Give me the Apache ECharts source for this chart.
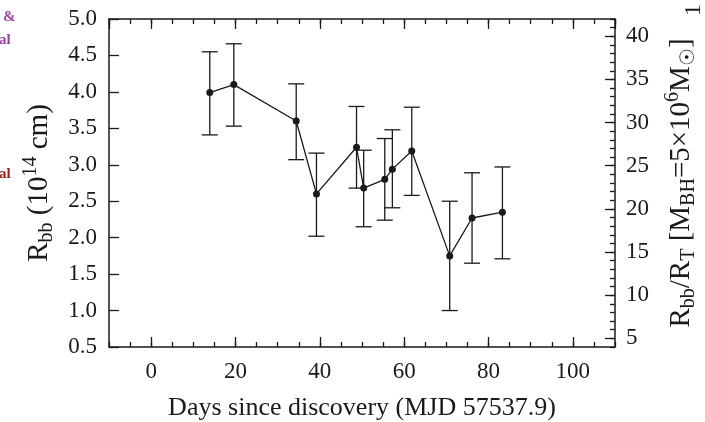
<!DOCTYPE html>
<html><head><meta charset="utf-8">
<script src="https://cdn.jsdelivr.net/npm/echarts@6/dist/echarts.min.js"></script>
<style>html,body{margin:0;padding:0;background:#fff}#c{width:705px;height:422px}</style>
</head><body><div id="c"></div>
<script>
// Days since discovery
const days = [13.9, 19.6, 34.4, 39.2, 48.7, 50.4, 55.4, 57.2, 61.8, 70.8, 76.1, 83.3];
// Blackbody radius (10^14 cm)
const rbb = [3.99, 4.10, 3.60, 2.60, 3.24, 2.68, 2.80, 2.94, 3.19, 1.75, 2.27, 2.35];
const rbbHigh = [4.55, 4.66, 4.11, 3.16, 3.80, 3.20, 3.36, 3.48, 3.79, 2.50, 2.89, 2.97];
const rbbLow = [3.41, 3.53, 3.07, 2.02, 2.68, 2.15, 2.24, 2.41, 2.58, 1.00, 1.65, 1.71];

const FONT = 'Liberation Serif';
const INK = '#1a1a1a';

const chart = echarts.init(document.getElementById('c'), null, {renderer: 'canvas'});

const linePts = days.map((d, i) => [d, rbb[i]]);
const errPts = days.map((d, i) => [d, rbbLow[i], rbbHigh[i]]);

const axisLine = {show: true, onZero: false, lineStyle: {color: INK, width: 1.5}};
const noLine = {show: false, onZero: false};
const majorTick = {show: true, inside: true, length: 10, lineStyle: {color: INK, width: 1.3}};
const minorTick = {show: true, inside: true, length: 5, lineStyle: {color: INK, width: 1.3}};
const tickLabel = {fontFamily: FONT, fontSize: 23, color: INK};
const nameRich = {
  sub: {fontFamily: FONT, fontSize: 20, color: INK, verticalAlign: 'bottom', lineHeight: 36},
  sup: {fontFamily: FONT, fontSize: 20, color: INK, verticalAlign: 'top', lineHeight: 36}
};

const gridRect = {left: 109, top: 19, width: 506, height: 328, containLabel: false, outerBoundsMode: 'none'};

const option = {
  animation: false,
  backgroundColor: '#fff',
  grid: [Object.assign({}, gridRect), Object.assign({}, gridRect)],
  xAxis: [
    {gridIndex: 0, type: 'value', position: 'bottom', min: -10, max: 110, splitNumber: 6,
     axisLine: axisLine, axisTick: majorTick, splitLine: {show: false},
     axisLabel: Object.assign({margin: 13, showMinLabel: false, showMaxLabel: false,
       formatter: v => String(Math.round(v))}, tickLabel),
     name: 'Days since discovery (MJD 57537.9)', nameLocation: 'middle', nameGap: 48,
     nameTextStyle: {fontFamily: FONT, fontSize: 26, color: INK}},
    {gridIndex: 0, type: 'value', position: 'top', min: -10, max: 110, splitNumber: 6,
     axisLine: axisLine, axisTick: majorTick, splitLine: {show: false}, axisLabel: {show: false}},
    {gridIndex: 1, type: 'value', position: 'bottom', min: -10, max: 110, interval: 5,
     axisLine: noLine, axisTick: minorTick, splitLine: {show: false}, axisLabel: {show: false}},
    {gridIndex: 1, type: 'value', position: 'top', min: -10, max: 110, interval: 5,
     axisLine: noLine, axisTick: minorTick, splitLine: {show: false}, axisLabel: {show: false}}
  ],
  yAxis: [
    {gridIndex: 0, type: 'value', position: 'left', min: 0.5, max: 5.0, interval: 0.5,
     axisLine: axisLine, axisTick: majorTick, splitLine: {show: false},
     axisLabel: Object.assign({margin: 12, formatter: v => v.toFixed(1)}, tickLabel),
     name: 'R{sub|bb} (10{sup|14} cm)', nameLocation: 'middle', nameGap: 52,
     nameTextStyle: {fontFamily: FONT, fontSize: 29, color: INK, lineHeight: 36, rich: nameRich}},
    {gridIndex: 0, type: 'value', position: 'right', min: 4, max: 42, splitNumber: 7,
     axisLine: axisLine, axisTick: majorTick, splitLine: {show: false},
     axisLabel: Object.assign({margin: 11, showMinLabel: false, showMaxLabel: false,
       formatter: v => String(Math.round(v))}, tickLabel),
     name: 'R{sub|bb}/R{sub|T} [M{sub|BH}=5×10{sup|6}M{sub|☉}]', nameLocation: 'middle', nameGap: 48,
     nameTextStyle: {fontFamily: FONT, fontSize: 29, color: INK, lineHeight: 36, rich: nameRich}},
    {gridIndex: 1, type: 'value', position: 'right', min: 4, max: 42, interval: 1,
     axisLine: noLine, axisTick: minorTick, splitLine: {show: false}, axisLabel: {show: false}}
  ],
  series: [
    {type: 'custom', xAxisIndex: 0, yAxisIndex: 0, data: errPts, z: 2,
     encode: {x: 0, y: [1, 2]},
     renderItem: function (params, api) {
       const x = api.value(0);
       const pLo = api.coord([x, api.value(1)]);
       const pHi = api.coord([x, api.value(2)]);
       const w = 8;
       const st = {stroke: INK, lineWidth: 1.3};
       return {type: 'group', children: [
         {type: 'line', shape: {x1: pHi[0], y1: pHi[1], x2: pLo[0], y2: pLo[1]}, style: st},
         {type: 'line', shape: {x1: pHi[0] - w, y1: pHi[1], x2: pHi[0] + w, y2: pHi[1]}, style: st},
         {type: 'line', shape: {x1: pLo[0] - w, y1: pLo[1], x2: pLo[0] + w, y2: pLo[1]}, style: st}
       ]};
     }},
    {type: 'line', xAxisIndex: 0, yAxisIndex: 0, data: linePts, z: 3,
     symbol: 'circle', symbolSize: 7, showSymbol: true,
     itemStyle: {color: INK}, lineStyle: {color: INK, width: 1.3}}
  ],
  graphic: [
    {type: 'text', x: 3, y: 17, style: {text: '&', fill: '#9c3fa8', font: 'bold 15px "Liberation Serif"', verticalAlign: 'middle'}},
    {type: 'text', x: -1, y: 40, style: {text: 'al', fill: '#9c3fa8', font: 'bold 15px "Liberation Serif"', verticalAlign: 'middle'}},
    {type: 'text', x: -1, y: 174, style: {text: 'al', fill: '#a01c1c', font: 'bold 15px "Liberation Serif"', verticalAlign: 'middle'}},
    {type: 'text', x: 694, y: 10, rotation: Math.PI / 2, style: {text: '1', fill: INK, font: '24px "Liberation Serif"', align: 'center', verticalAlign: 'middle'}}
  ]
};
chart.setOption(option);
</script>
</body></html>
